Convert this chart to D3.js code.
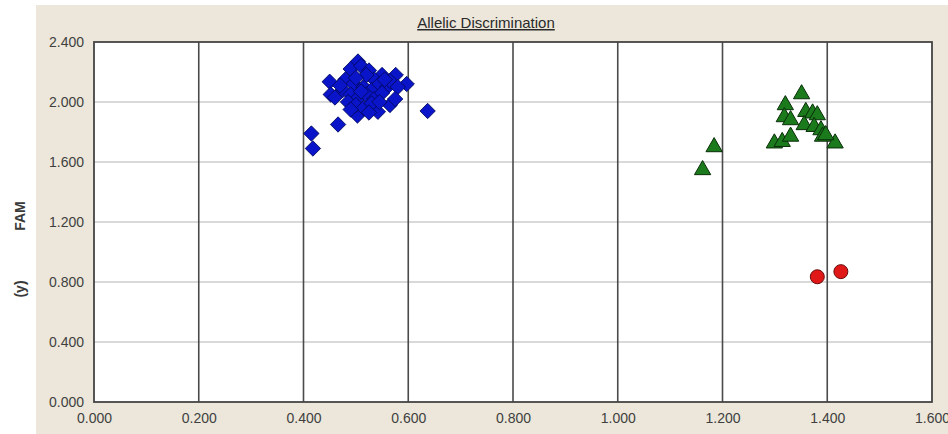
<!DOCTYPE html>
<html>
<head>
<meta charset="utf-8">
<script src="https://cdn.jsdelivr.net/npm/d3@7"></script>
<style>
  html, body { margin: 0; padding: 0; background: #ffffff; }
  svg { display: block; }
  text { font-family: "Liberation Sans", Arial, sans-serif; }
</style>
</head>
<body>
<svg id="chart" width="948" height="434"></svg>
<script>
// Allelic discrimination scatter: X-axis allele vs FAM (y) signal
const title = "Allelic Discrimination";
const xTicks = [0, 0.2, 0.4, 0.6, 0.8, 1.0, 1.2, 1.4, 1.6];
const yTicks = [0, 0.4, 0.8, 1.2, 1.6, 2.0, 2.4];

// Homozygous FAM cluster (blue diamonds)
const blueX = [0.415, 0.418, 0.466, 0.637, 0.450, 0.452, 0.597, 0.576, 0.504, 0.503, 0.542, 0.565,
  0.490, 0.510, 0.525, 0.550, 0.535, 0.480, 0.495, 0.515, 0.530, 0.545, 0.560, 0.475, 0.490,
  0.505, 0.520, 0.535, 0.550, 0.565, 0.485, 0.500, 0.515, 0.530, 0.520, 0.500, 0.470, 0.545,
  0.555, 0.490, 0.525, 0.510, 0.580, 0.460, 0.575];
const blueY = [1.79, 1.69, 1.85, 1.94, 2.135, 2.05, 2.12, 2.18, 2.27, 1.91, 1.935, 1.98,
  2.22, 2.24, 2.21, 2.18, 2.15, 2.15, 2.12, 2.10, 2.08, 2.12, 2.10, 2.08, 2.05,
  2.03, 2.05, 2.02, 2.06, 2.14, 2.00, 1.98, 1.96, 1.99, 2.18, 2.16, 2.11, 2.00,
  2.15, 1.95, 1.93, 2.07, 2.10, 2.03, 2.02];

// Heterozygous cluster (green triangles)
const greenX = [1.162, 1.184, 1.351, 1.320, 1.318, 1.330, 1.359, 1.372, 1.381, 1.356, 1.375,
  1.388, 1.391, 1.299, 1.314, 1.330, 1.415, 1.397];
const greenY = [1.547, 1.70, 2.053, 1.98, 1.90, 1.88, 1.935, 1.925, 1.913, 1.847, 1.835,
  1.813, 1.77, 1.725, 1.735, 1.77, 1.725, 1.78];

// Other allele cluster (red circles)
const redX = [1.381, 1.426];
const redY = [0.835, 0.869];

const svg = d3.select("#chart");
const W = 948, H = 434;
const plot = { left: 94, top: 42, right: 932, bottom: 402 };

const x = d3.scaleLinear().domain([0, 1.6]).range([plot.left, plot.right]);
const y = d3.scaleLinear().domain([0, 2.4]).range([plot.bottom, plot.top]);

// Panel background
svg.append("rect").attr("x", 36).attr("y", 5).attr("width", W - 36).attr("height", H - 5)
  .attr("fill", "#ece7da");
svg.append("rect").attr("x", plot.left).attr("y", plot.top)
  .attr("width", plot.right - plot.left).attr("height", plot.bottom - plot.top)
  .attr("fill", "#ffffff");

// Horizontal grid (light)
svg.append("g").selectAll("line").data(yTicks.slice(1, -1)).join("line")
  .attr("x1", plot.left).attr("x2", plot.right)
  .attr("y1", d => y(d)).attr("y2", d => y(d))
  .attr("stroke", "#b4b4b4").attr("stroke-width", 1.2);

// Vertical grid (dark)
svg.append("g").selectAll("line").data(xTicks.slice(1, -1)).join("line")
  .attr("y1", plot.top).attr("y2", plot.bottom)
  .attr("x1", d => x(d)).attr("x2", d => x(d))
  .attr("stroke", "#4a4a4a").attr("stroke-width", 1.6);

// Plot frame
svg.append("rect").attr("x", plot.left).attr("y", plot.top)
  .attr("width", plot.right - plot.left).attr("height", plot.bottom - plot.top)
  .attr("fill", "none").attr("stroke", "#444").attr("stroke-width", 1.8);

// Axes (labels only, formatted to three decimals)
const fmt = d3.format(".3f");
const yAxis = svg.append("g").attr("transform", `translate(${plot.left},0)`)
  .call(d3.axisLeft(y).tickValues(yTicks).tickFormat(fmt).tickSize(0).tickPadding(10));
const xAxis = svg.append("g").attr("transform", `translate(0,${plot.bottom})`)
  .call(d3.axisBottom(x).tickValues(xTicks).tickFormat(fmt).tickSize(0).tickPadding(11));
[yAxis, xAxis].forEach(g => {
  g.select(".domain").remove();
  g.selectAll("text").attr("fill", "#3f3f3f").style("font-size", "14px")
    .style("font-family", "'Liberation Sans', Arial, sans-serif");
});

// Title
svg.append("text").attr("x", 486).attr("y", 28).attr("text-anchor", "middle")
  .style("font-size", "15px").attr("fill", "#2a2a2a")
  .attr("text-decoration", "underline").text(title);

// Y axis title
svg.append("text").attr("transform", "translate(25,216) rotate(-90)")
  .attr("text-anchor", "middle").style("font-size", "14px").style("font-weight", "bold")
  .attr("fill", "#3a3a3a").text("FAM");
svg.append("text").attr("transform", "translate(25,289) rotate(-90)")
  .attr("text-anchor", "middle").style("font-size", "14px").style("font-weight", "bold")
  .attr("fill", "#3a3a3a").text("(y)");

const marks = svg.append("g");

// Blue diamonds
const diamond = d3.symbol().type(d3.symbolSquare).size(118);
marks.append("g").selectAll("path").data(d3.range(blueX.length)).join("path")
  .attr("d", diamond)
  .attr("transform", i => `translate(${x(blueX[i])},${y(blueY[i])}) rotate(45)`)
  .attr("fill", "#0a14c8").attr("stroke", "#00085a").attr("stroke-width", 0.8);

// Green triangles
const tri = d3.symbol().type(d3.symbolTriangle).size(115);
marks.append("g").selectAll("path").data(d3.range(greenX.length)).join("path")
  .attr("d", tri)
  .attr("transform", i => `translate(${x(greenX[i])},${y(greenY[i])})`)
  .attr("fill", "#1b7a1b").attr("stroke", "#0a2e0a").attr("stroke-width", 1);

// Red circles
marks.append("g").selectAll("circle").data(d3.range(redX.length)).join("circle")
  .attr("cx", i => x(redX[i])).attr("cy", i => y(redY[i])).attr("r", 7)
  .attr("fill", "#e01818").attr("stroke", "#6a0a0a").attr("stroke-width", 1);
</script>
</body>
</html>
